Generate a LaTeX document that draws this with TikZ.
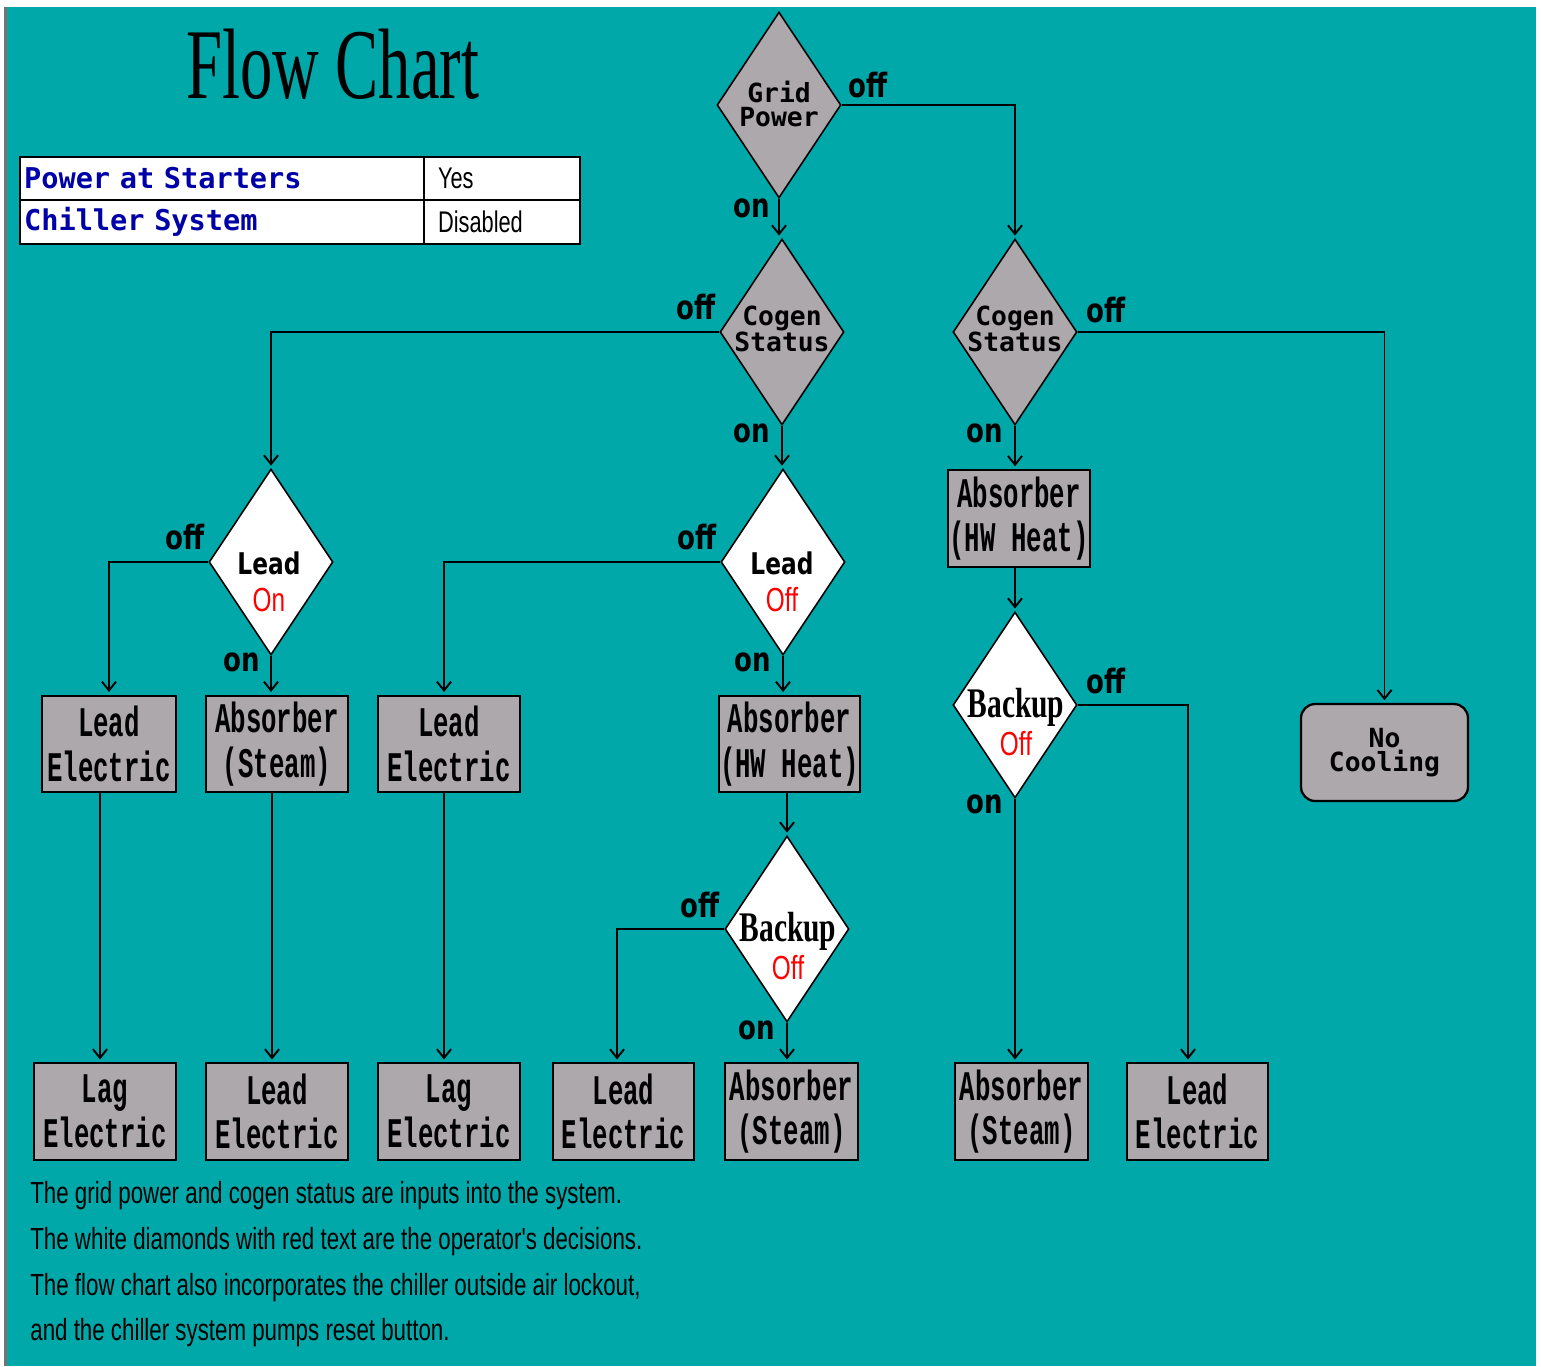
\documentclass[tikz,border=0pt]{standalone}
\usepackage{fontspec}
\usetikzlibrary{shapes.geometric,arrows.meta}

\setmainfont{Liberation Serif}
\newfontfamily\titlefont[FakeStretch=0.645]{Liberation Serif}
\newfontfamily\notefont[FakeStretch=0.73]{Liberation Sans}
\newfontfamily\gridfont{DejaVu Sans Mono}
\newfontfamily\unitfont[FakeStretch=0.61]{Liberation Mono}
\newfontfamily\tagfont[FakeStretch=0.78]{DejaVu Sans}
\newfontfamily\backupfont[FakeStretch=0.7]{Liberation Serif}

\definecolor{chartbg}{RGB}{0,168,170}
\definecolor{chartgray}{RGB}{172,168,172}
\definecolor{chartblue}{RGB}{0,0,168}

\newcommand{\optword}[1]{{\notefont\mdseries\fontsize{19}{21}\selectfont\color{red}#1}}

\tikzset{
  decision/.style={diamond, draw=black, line width=0.9pt, fill=chartgray, inner sep=0pt,
    minimum width=2.48cm, minimum height=3.72cm},
  choice/.style={decision, fill=white},
  dlabel/.style={align=center, inner sep=0pt, font=\gridfont\bfseries\fontsize{15}{14}\selectfont},
  clabel/.style={align=center, inner sep=0pt, font=\tagfont\bfseries\fontsize{17}{21}\selectfont},
  blabel/.style={align=center, inner sep=0pt, font=\backupfont\bfseries\fontsize{24}{22}\selectfont},
  unit/.style={rectangle, draw=black, line width=1.3pt, fill=chartgray, inner sep=0pt,
    minimum height=1.93cm, align=center, font=\unitfont\bfseries\fontsize{24}{25.5}\selectfont},
  flow/.style={line width=1.1pt, -{Straight Barb[length=5pt,width=8pt]}, shorten >=1.5pt},
  yn/.style={inner sep=0pt, font=\tagfont\bfseries\fontsize{19}{19}\selectfont},
  cell/.style={rectangle, draw=black, line width=1.2pt, fill=white, inner ysep=0pt, align=left},
  note/.style={anchor=base west, inner sep=0pt, font=\notefont\fontsize{17.4}{20}\selectfont}
}

\begin{document}
\begin{tikzpicture}[x=0.02cm, y=-0.02cm]
    % Page and teal panel
    \useasboundingbox (0,0) rectangle (1541,1366);
    \fill[white] (0,0) rectangle (1541,1366);
    \fill[chartbg] (7,7) rectangle (1536,1366);
    \fill[black!55] (4,7) rectangle (7,1366);

    % Title and status table
    \node[font=\titlefont\fontsize{57}{57}\selectfont] (title) at (333,64) {Flow Chart};
    \node[cell, minimum width=8.08cm, minimum height=0.86cm, text width=7.92cm, inner xsep=0.08cm,
      font=\gridfont\bfseries\fontsize{16.3}{16}\selectfont, text=chartblue] (starters) at (222,178.5) {Power at Starters};
    \node[cell, minimum width=3.12cm, minimum height=0.86cm, text width=2.56cm, inner xsep=0.28cm,
      font=\notefont\fontsize{17}{18}\selectfont] (starters-v) at (502,178.5) {Yes};
    \node[cell, minimum width=8.08cm, minimum height=0.88cm, text width=7.92cm, inner xsep=0.08cm,
      font=\gridfont\bfseries\fontsize{16.3}{16}\selectfont, text=chartblue] (chiller) at (222,222) {Chiller System};
    \node[cell, minimum width=3.12cm, minimum height=0.88cm, text width=2.56cm, inner xsep=0.28cm,
      font=\notefont\fontsize{17}{18}\selectfont] (chiller-v) at (502,222) {Disabled};

    % Input diamonds (gray)
    \node[decision] (grid) at (779,105) {};
    \node[dlabel] (grid-t) at (779,104) {Grid\\Power};
    \node[decision] (cogenA) at (782,332) {};
    \node[dlabel] (cogenA-t) at (782,329) {Cogen\\Status};
    \node[decision] (cogenB) at (1015,332) {};
    \node[dlabel] (cogenB-t) at (1015,329) {Cogen\\Status};

    % Operator diamonds (white)
    \node[choice] (leadOn) at (271,562) {};
    \node[clabel] (leadOn-t) at (269,582) {Lead\\\optword{On}};
    \node[choice] (leadOff) at (783,562) {};
    \node[clabel] (leadOff-t) at (782,582) {Lead\\\optword{Off}};
    \node[choice] (backupB) at (1015,705) {};
    \node[blabel] (backupB-t) at (1016,722) {Backup\\\optword{Off}};
    \node[choice] (backupA) at (787,929) {};
    \node[blabel] (backupA-t) at (788,946) {Backup\\\optword{Off}};

    % Middle row of units
    \node[unit, minimum width=2.68cm] (lead1) at (109,744) {Lead\\Electric};
    \node[unit, minimum width=2.84cm] (steam1) at (277,744) {Absorber\\(Steam)};
    \node[unit, minimum width=2.84cm] (lead2) at (449,744) {Lead\\Electric};
    \node[unit, minimum width=2.82cm] (hwA) at (789.5,744) {Absorber\\(HW Heat)};
    \node[unit, minimum width=2.84cm, minimum height=1.94cm] (hwB) at (1019,518.5) {Absorber\\(HW Heat)};
    \node[rectangle, rounded corners=8pt, draw=black, line width=1.3pt, fill=chartgray,
      minimum width=3.34cm, minimum height=1.94cm, inner sep=0pt, align=center,
      font=\gridfont\bfseries\fontsize{15}{14}\selectfont] (noCool) at (1384.5,752.5) {No\\Cooling};

    % Bottom row of units
    \node[unit, minimum width=2.84cm] (lag1) at (105,1111.5) {Lag\\Electric};
    \node[unit, minimum width=2.84cm] (lead3) at (277,1111.5) {Lead\\Electric};
    \node[unit, minimum width=2.84cm] (lag2) at (449,1111.5) {Lag\\Electric};
    \node[unit, minimum width=2.82cm] (lead4) at (623.5,1111.5) {Lead\\Electric};
    \node[unit, minimum width=2.66cm] (steam2) at (791.5,1111.5) {Absorber\\(Steam)};
    \node[unit, minimum width=2.66cm] (steam3) at (1021.5,1111.5) {Absorber\\(Steam)};
    \node[unit, minimum width=2.82cm] (lead5) at (1197.5,1111.5) {Lead\\Electric};

    % Connectors
    \draw[flow] (grid.south) -- (grid.south |- cogenA.north);
    \draw[flow] (grid.east) -| (cogenB.north);
    \draw[flow] (cogenA.west) -| (leadOn.north);
    \draw[flow] (cogenA.south) -- (cogenA.south |- leadOff.north);
    \draw[flow] (cogenB.east) -| (noCool.north);
    \draw[flow] (cogenB.south) -- (cogenB.south |- hwB.north);
    \draw[flow] (hwB.south -| backupB.north) -- (backupB.north);
    \draw[flow] (backupB.east) -| ([xshift=-0.19cm]lead5.north);
    \draw[flow] (backupB.south) -- (backupB.south |- steam3.north);
    \draw[flow] (leadOn.west) -| (lead1.north);
    \draw[flow] (leadOn.south) -- (leadOn.south |- steam1.north);
    \draw[flow] (leadOff.west) -| ([xshift=-0.1cm]lead2.north);
    \draw[flow] (leadOff.south) -- (leadOff.south |- hwA.north);
    \draw[flow] (hwA.south -| backupA.north) -- (backupA.north);
    \draw[flow] (backupA.west) -| ([xshift=-0.13cm]lead4.north);
    \draw[flow] (backupA.south) -- (backupA.south |- steam2.north);
    \draw[flow] ([xshift=-0.1cm]lead1.south -| lag1.north) -- ([xshift=-0.1cm]lag1.north);
    \draw[flow] ([xshift=-0.1cm]steam1.south) -- ([xshift=-0.1cm]lead3.north);
    \draw[flow] ([xshift=-0.1cm]lead2.south) -- ([xshift=-0.1cm]lag2.north);

    % on / off labels
    \node[yn] (grid-off) at (868,85) {off};
    \node[yn] (grid-on) at (752,208) {on};
    \node[yn] (cogenA-off) at (696,307) {off};
    \node[yn] (cogenA-on) at (752,433) {on};
    \node[yn] (cogenB-off) at (1106,310) {off};
    \node[yn] (cogenB-on) at (985,433) {on};
    \node[yn] (leadOn-off) at (185,537) {off};
    \node[yn] (leadOn-on) at (242,662) {on};
    \node[yn] (leadOff-off) at (697,537) {off};
    \node[yn] (leadOff-on) at (753,662) {on};
    \node[yn] (backupB-off) at (1106,681) {off};
    \node[yn] (backupB-on) at (985,804) {on};
    \node[yn] (backupA-off) at (700,905) {off};
    \node[yn] (backupA-on) at (757,1030) {on};

    % Notes
    \node[note] (note1) at (30,1203) {The grid power and cogen status are inputs into the system.};
    \node[note] (note2) at (30,1249) {The white diamonds with red text are the operator's decisions.};
    \node[note] (note3) at (30,1295) {The flow chart also incorporates the chiller outside air lockout,};
    \node[note] (note4) at (30,1340) {and the chiller system pumps reset button.};
\end{tikzpicture}
\end{document}
